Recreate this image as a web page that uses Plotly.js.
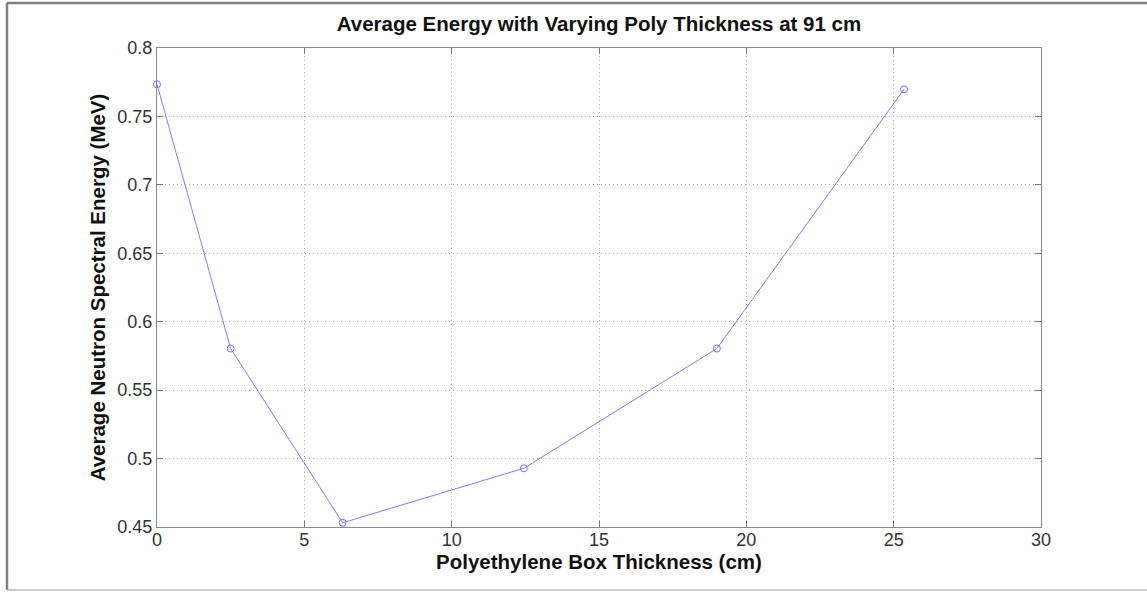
<!DOCTYPE html>
<html>
<head>
<meta charset="utf-8">
<script src="https://cdn.plot.ly/plotly-3.0.1.min.js"></script>
<style>
html,body{margin:0;padding:0;background:#fff;}
#chart{width:1147px;height:592px;}
</style>
</head>
<body>
<div id="chart"></div>
<script>
const thickness = [0, 2.5, 6.3, 12.45, 19, 25.35];
const avgEnergy = [0.7735, 0.5804, 0.4531, 0.4929, 0.5804, 0.7698];
const xTicks = [0, 5, 10, 15, 20, 25, 30];
const yTicks = [0.45, 0.5, 0.55, 0.6, 0.65, 0.7, 0.75, 0.8];

const font = "Liberation Sans, Arial, sans-serif";

const trace = {
  x: thickness,
  y: avgEnergy,
  type: 'scatter',
  mode: 'lines+markers',
  line: {color: '#7f7fff', width: 1},
  marker: {symbol: 'circle-open', size: 7, color: '#7070ff', line: {width: 1}},
  cliponaxis: false
};

const layout = {
  width: 1147,
  height: 592,
  margin: {l: 157, r: 106, t: 48, b: 65},
  paper_bgcolor: '#fff',
  plot_bgcolor: '#fff',
  showlegend: false,
  font: {family: font, size: 18, color: '#262626'},
  title: {
    text: '<b>Average Energy with Varying Poly Thickness at 91 cm</b>',
    font: {family: font, size: 20.5, color: '#111'},
    x: 0.5, xref: 'paper', y: 1 - 24/592, yref: 'container', yanchor: 'middle'
  },
  xaxis: {
    range: [0, 30],
    tickvals: xTicks,
    ticktext: xTicks.map(String),
    ticks: 'inside', ticklen: 6, tickcolor: '#777',
    ticklabelstandoff: -4,
    showgrid: true, gridcolor: '#b0b0b0', griddash: '1px,3px', gridwidth: 1,
    showline: true, linecolor: '#888', linewidth: 1, mirror: 'ticks',
    zeroline: false,
    tickfont: {family: font, size: 18, color: '#333'},
    title: {text: '<b>Polyethylene Box Thickness (cm)</b>', font: {family: font, size: 20.5, color: '#111'}, standoff: 0}
  },
  yaxis: {
    range: [0.45, 0.8],
    tickvals: yTicks,
    ticktext: yTicks.map(v => String(v)),
    ticks: 'inside', ticklen: 6, tickcolor: '#777',
    showgrid: true, gridcolor: '#b0b0b0', griddash: '1px,3px', gridwidth: 1,
    showline: true, linecolor: '#888', linewidth: 1, mirror: 'ticks',
    zeroline: false,
    tickfont: {family: font, size: 18, color: '#333'},
    title: {text: '<b>Average Neutron Spectral Energy (MeV)</b>', font: {family: font, size: 20.5, color: '#111'}, standoff: 6}
  },
  shapes: [
    {type: 'line', xref: 'paper', yref: 'paper', x0: -0.1697, x1: 1.12, y0: 1.0939, y1: 1.0939, line: {color: '#808080', width: 2.5}},
    {type: 'line', xref: 'paper', yref: 'paper', x0: -0.1697, x1: -0.1697, y0: 1.0939, y1: -0.1315, line: {color: '#808080', width: 2.5}},
    {type: 'line', xref: 'paper', yref: 'paper', x0: -0.1697, x1: 1.12, y0: -0.1315, y1: -0.1315, line: {color: '#bbbbbb', width: 1.5}}
  ]
};

Plotly.newPlot('chart', [trace], layout, {displayModeBar: false, staticPlot: true});
</script>
</body>
</html>
